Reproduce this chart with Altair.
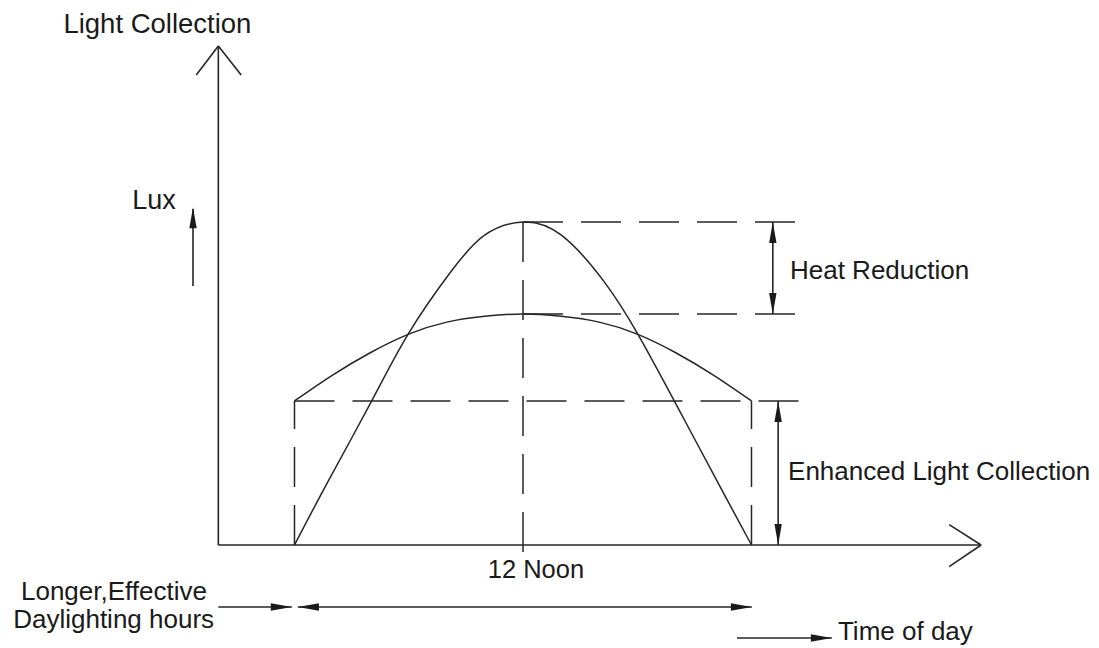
import altair as alt
import pandas as pd

# ---- curve values (hour of day, lux index; noon peak = 100) ----
tall_hours = [6.0, 6.85, 8.0, 9.0, 10.1, 11.0, 12.0, 13.0, 14.1, 15.0, 16.0, 17.15, 18.0]
tall_lux = [0, 19, 44, 65.6, 84.5, 96, 100, 96, 82, 65.6, 44, 18.6, 0]

flat_hours = [6.0, 7.0, 8.0, 9.0, 10.0, 11.0, 12.0, 13.0, 14.0, 15.0, 16.0, 17.0, 18.0]
flat_lux = [44.6, 52.6, 59.6, 65.3, 69.0, 70.8, 71.5, 70.8, 69.0, 65.3, 59.6, 52.6, 44.6]

# reference levels
peak_lux = 100
flat_peak_lux = 71.5
end_lux = 44.6
start_hour, noon_hour, end_hour = 6.0, 12.0, 18.0

# ---- annotation geometry (data units) ----
origin_hour = 4.0
dash_x1 = [noon_hour, noon_hour, start_hour, start_hour, end_hour, noon_hour]
dash_x2 = [19.4, 19.4, 19.4, start_hour, end_hour, noon_hour]
dash_y1 = [peak_lux, flat_peak_lux, end_lux, 0, 0, peak_lux]
dash_y2 = [peak_lux, flat_peak_lux, end_lux, end_lux, end_lux, -2.5]

solid_x1 = [origin_hour, origin_hour, origin_hour, origin_hour, 24.03, 24.03, 3.335, 18.56, 18.70, origin_hour, 6.09, 17.62]
solid_x2 = [origin_hour, 24.03, 3.42, 4.60, 23.19, 23.19, 3.335, 18.56, 18.70, 5.93, 18.01, 20.11]
solid_y1 = [0, 0, 154.5, 154.5, 0, 0, 80.2, peak_lux, end_lux, -19.2, -19.2, -28.8]
solid_y2 = [154.5, 0, 145.5, 145.5, 6.3, -6.7, 104.0, flat_peak_lux, 0, -19.2, -19.2, -28.8]

head_x = [3.335, 18.56, 18.56, 18.70, 18.70, 5.93, 6.09, 18.01, 20.11]
head_y = [104.6, peak_lux, flat_peak_lux, end_lux, 0, -19.2, -19.2, -19.2, -28.8]
head_angle = [0, 0, 180, 0, 180, 90, 270, 90, 90]

center_labels = ["Light Collection", "Lux", "12 Noon", "Longer,Effective", "Daylighting hours"]
center_x = [2.40, 2.31, 12.34, 1.26, 1.25]
center_y = [158.5, 104.0, -10.2, -17.0, -25.7]
center_fs = [27.5, 27, 25.5, 26, 26]

left_labels = ["Heat Reduction", "Enhanced Light Collection", "Time of day"]
left_x = [19.01, 18.96, 20.27]
left_y = [82.35, 20.1, -29.3]
left_fs = [26, 26, 26]

# ---- tables ----
curves = pd.DataFrame({
    "hour": tall_hours + flat_hours,
    "lux": tall_lux + flat_lux,
    "series": ["tall"] * len(tall_hours) + ["flat"] * len(flat_hours),
})
dashed = pd.DataFrame({"x": dash_x1, "x2": dash_x2, "y": dash_y1, "y2": dash_y2})
solid = pd.DataFrame({"x": solid_x1, "x2": solid_x2, "y": solid_y1, "y2": solid_y2})
heads = pd.DataFrame({"x": head_x, "y": head_y, "ang": head_angle})
ctext = pd.DataFrame({"x": center_x, "y": center_y, "label": center_labels, "fs": center_fs})
ltext = pd.DataFrame({"x": left_x, "y": left_y, "label": left_labels, "fs": left_fs})

xs = alt.Scale(domain=[-1.523, 26.915], nice=False, zero=False)
ys = alt.Scale(domain=[-31.27, 166.25], nice=False, zero=False)
INK = "#262626"
TXT = "#1a1a1a"

def X(f):
    return alt.X(f, type="quantitative", scale=xs, axis=None)

def Y(f):
    return alt.Y(f, type="quantitative", scale=ys, axis=None)

line_layer = alt.Chart(curves).mark_line(
    interpolate="natural", color=INK, strokeWidth=1.5
).encode(x=X("hour"), y=Y("lux"), detail="series:N")

dash_layer = alt.Chart(dashed).mark_rule(
    color=INK, strokeWidth=1.5, strokeDash=[40, 18]
).encode(x=X("x"), y=Y("y"), x2="x2:Q", y2="y2:Q")

solid_layer = alt.Chart(solid).mark_rule(
    color=INK, strokeWidth=1.6
).encode(x=X("x"), y=Y("y"), x2="x2:Q", y2="y2:Q")

head_layer = alt.Chart(heads).mark_point(
    shape="M0,0L0.35,2L-0.35,2Z", filled=True, size=441, color=TXT, opacity=1, strokeWidth=0
).encode(x=X("x"), y=Y("y"), angle=alt.Angle("ang:Q", scale=None))

ctext_layer = alt.Chart(ctext).mark_text(
    font="Liberation Sans", align="center", baseline="alphabetic", color=TXT
).encode(x=X("x"), y=Y("y"), text="label:N", size=alt.Size("fs:Q", scale=None))

ltext_layer = alt.Chart(ltext).mark_text(
    font="Liberation Sans", align="left", baseline="alphabetic", color=TXT
).encode(x=X("x"), y=Y("y"), text="label:N", size=alt.Size("fs:Q", scale=None))

chart = alt.layer(
    dash_layer, line_layer, solid_layer, head_layer, ctext_layer, ltext_layer
).properties(
    width=1083, height=638, padding=0,
    autosize=alt.AutoSizeParams(type="none"),
    background="white",
).configure_view(stroke=None)

chart.save("out.html", embed_options={"renderer": "svg", "actions": False})
